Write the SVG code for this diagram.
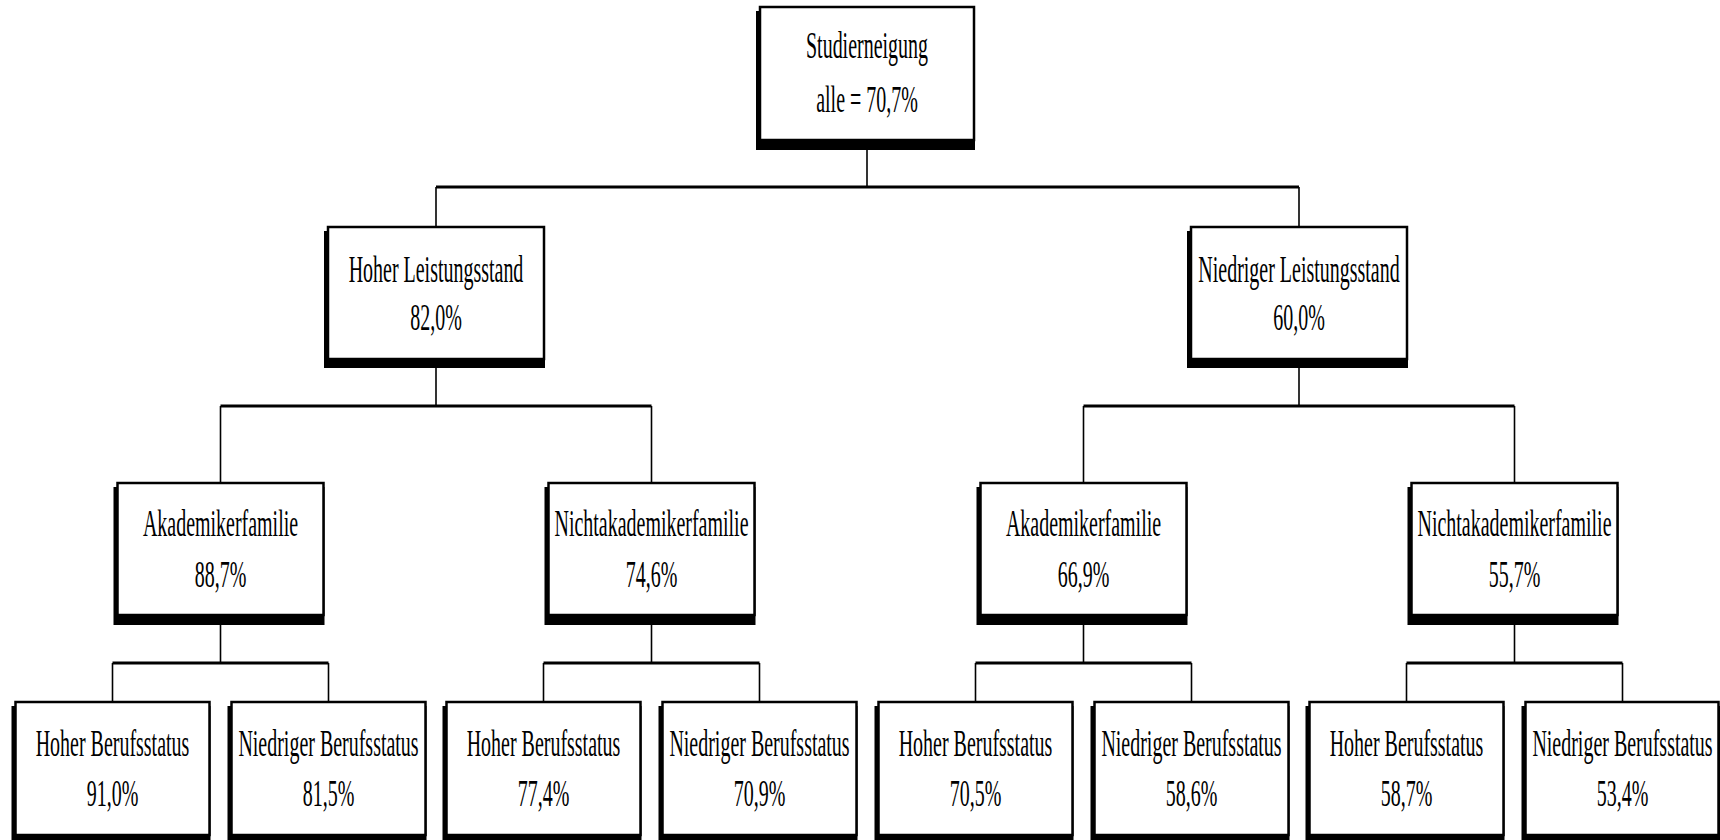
<svg xmlns="http://www.w3.org/2000/svg" width="1720" height="840" viewBox="0 0 1720 840">
<style>
.bg{fill:#fff}
.sh{fill:#000}
.bx{fill:#fff;stroke:#000;stroke-width:2.5}
.t{font-family:"Liberation Serif","Times New Roman",serif;font-size:37px;fill:#000;text-anchor:middle}
.v{stroke:#000;stroke-width:1.6;fill:none}
.h{stroke:#000;stroke-width:3;fill:none}
</style>
<rect class="bg" x="0" y="0" width="1720" height="840"/>
<g id="connectors">
<line class="v" x1="867" y1="150" x2="867" y2="187"/>
<line class="h" x1="436" y1="187" x2="1299" y2="187"/>
<line class="v" x1="436" y1="187" x2="436" y2="227"/>
<line class="v" x1="1299" y1="187" x2="1299" y2="227"/>
<line class="v" x1="436" y1="368" x2="436" y2="406"/>
<line class="h" x1="220.5" y1="406" x2="651.5" y2="406"/>
<line class="v" x1="220.5" y1="406" x2="220.5" y2="483"/>
<line class="v" x1="651.5" y1="406" x2="651.5" y2="483"/>
<line class="v" x1="1299" y1="368" x2="1299" y2="406"/>
<line class="h" x1="1083.5" y1="406" x2="1514.5" y2="406"/>
<line class="v" x1="1083.5" y1="406" x2="1083.5" y2="483"/>
<line class="v" x1="1514.5" y1="406" x2="1514.5" y2="483"/>
<line class="v" x1="220.5" y1="625" x2="220.5" y2="663"/>
<line class="h" x1="112.5" y1="663" x2="328.5" y2="663"/>
<line class="v" x1="112.5" y1="663" x2="112.5" y2="702"/>
<line class="v" x1="328.5" y1="663" x2="328.5" y2="702"/>
<line class="v" x1="651.5" y1="625" x2="651.5" y2="663"/>
<line class="h" x1="543.5" y1="663" x2="759.5" y2="663"/>
<line class="v" x1="543.5" y1="663" x2="543.5" y2="702"/>
<line class="v" x1="759.5" y1="663" x2="759.5" y2="702"/>
<line class="v" x1="1083.5" y1="625" x2="1083.5" y2="663"/>
<line class="h" x1="975.5" y1="663" x2="1191.5" y2="663"/>
<line class="v" x1="975.5" y1="663" x2="975.5" y2="702"/>
<line class="v" x1="1191.5" y1="663" x2="1191.5" y2="702"/>
<line class="v" x1="1514.5" y1="625" x2="1514.5" y2="663"/>
<line class="h" x1="1406.5" y1="663" x2="1622.5" y2="663"/>
<line class="v" x1="1406.5" y1="663" x2="1406.5" y2="702"/>
<line class="v" x1="1622.5" y1="663" x2="1622.5" y2="702"/>
</g>

<g id="root">
<rect class="sh" x="756" y="11" width="219" height="139"/>
<rect class="bx" x="760" y="7" width="214" height="133"/>
<g transform="translate(867 0) scale(0.54 1)"><text class="t" x="0" y="58">Studierneigung</text><text class="t" x="0" y="112">alle = 70,7%</text></g>
</g>

<g id="hoher-leistungsstand">
<rect class="sh" x="324" y="231" width="221" height="137"/>
<rect class="bx" x="328" y="227" width="216" height="132"/>
<g transform="translate(436 0) scale(0.54 1)"><text class="t" x="0" y="282">Hoher Leistungsstand</text><text class="t" x="0" y="330">82,0%</text></g>
</g>

<g id="niedriger-leistungsstand">
<rect class="sh" x="1187" y="231" width="221" height="137"/>
<rect class="bx" x="1191" y="227" width="216" height="132"/>
<g transform="translate(1299 0) scale(0.54 1)"><text class="t" x="0" y="282">Niedriger Leistungsstand</text><text class="t" x="0" y="330">60,0%</text></g>
</g>

<g id="akad-hoch">
<rect class="sh" x="113.5" y="487" width="211" height="138"/>
<rect class="bx" x="117.5" y="483" width="206" height="132"/>
<g transform="translate(220.5 0) scale(0.54 1)"><text class="t" x="0" y="536">Akademikerfamilie</text><text class="t" x="0" y="587">88,7%</text></g>
</g>

<g id="nichtakad-hoch">
<rect class="sh" x="544.5" y="487" width="211" height="138"/>
<rect class="bx" x="548.5" y="483" width="206" height="132"/>
<g transform="translate(651.5 0) scale(0.54 1)"><text class="t" x="0" y="536">Nichtakademikerfamilie</text><text class="t" x="0" y="587">74,6%</text></g>
</g>

<g id="akad-niedrig">
<rect class="sh" x="976.5" y="487" width="211" height="138"/>
<rect class="bx" x="980.5" y="483" width="206" height="132"/>
<g transform="translate(1083.5 0) scale(0.54 1)"><text class="t" x="0" y="536">Akademikerfamilie</text><text class="t" x="0" y="587">66,9%</text></g>
</g>

<g id="nichtakad-niedrig">
<rect class="sh" x="1407.5" y="487" width="211" height="138"/>
<rect class="bx" x="1411.5" y="483" width="206" height="132"/>
<g transform="translate(1514.5 0) scale(0.54 1)"><text class="t" x="0" y="536">Nichtakademikerfamilie</text><text class="t" x="0" y="587">55,7%</text></g>
</g>

<g id="b1">
<rect class="sh" x="11.5" y="706" width="199" height="140"/>
<rect class="bx" x="15.5" y="702" width="194" height="133"/>
<g transform="translate(112.5 0) scale(0.54 1)"><text class="t" x="0" y="756">Hoher Berufsstatus</text><text class="t" x="0" y="806">91,0%</text></g>
</g>
<g id="b2">
<rect class="sh" x="227.5" y="706" width="199" height="140"/>
<rect class="bx" x="231.5" y="702" width="194" height="133"/>
<g transform="translate(328.5 0) scale(0.54 1)"><text class="t" x="0" y="756">Niedriger Berufsstatus</text><text class="t" x="0" y="806">81,5%</text></g>
</g>
<g id="b3">
<rect class="sh" x="442.5" y="706" width="199" height="140"/>
<rect class="bx" x="446.5" y="702" width="194" height="133"/>
<g transform="translate(543.5 0) scale(0.54 1)"><text class="t" x="0" y="756">Hoher Berufsstatus</text><text class="t" x="0" y="806">77,4%</text></g>
</g>
<g id="b4">
<rect class="sh" x="658.5" y="706" width="199" height="140"/>
<rect class="bx" x="662.5" y="702" width="194" height="133"/>
<g transform="translate(759.5 0) scale(0.54 1)"><text class="t" x="0" y="756">Niedriger Berufsstatus</text><text class="t" x="0" y="806">70,9%</text></g>
</g>
<g id="b5">
<rect class="sh" x="874.5" y="706" width="199" height="140"/>
<rect class="bx" x="878.5" y="702" width="194" height="133"/>
<g transform="translate(975.5 0) scale(0.54 1)"><text class="t" x="0" y="756">Hoher Berufsstatus</text><text class="t" x="0" y="806">70,5%</text></g>
</g>
<g id="b6">
<rect class="sh" x="1090.5" y="706" width="199" height="140"/>
<rect class="bx" x="1094.5" y="702" width="194" height="133"/>
<g transform="translate(1191.5 0) scale(0.54 1)"><text class="t" x="0" y="756">Niedriger Berufsstatus</text><text class="t" x="0" y="806">58,6%</text></g>
</g>
<g id="b7">
<rect class="sh" x="1305.5" y="706" width="199" height="140"/>
<rect class="bx" x="1309.5" y="702" width="194" height="133"/>
<g transform="translate(1406.5 0) scale(0.54 1)"><text class="t" x="0" y="756">Hoher Berufsstatus</text><text class="t" x="0" y="806">58,7%</text></g>
</g>
<g id="b8">
<rect class="sh" x="1521.5" y="706" width="199" height="140"/>
<rect class="bx" x="1525.5" y="702" width="193" height="133"/>
<g transform="translate(1622.5 0) scale(0.54 1)"><text class="t" x="0" y="756">Niedriger Berufsstatus</text><text class="t" x="0" y="806">53,4%</text></g>
</g>
</svg>
